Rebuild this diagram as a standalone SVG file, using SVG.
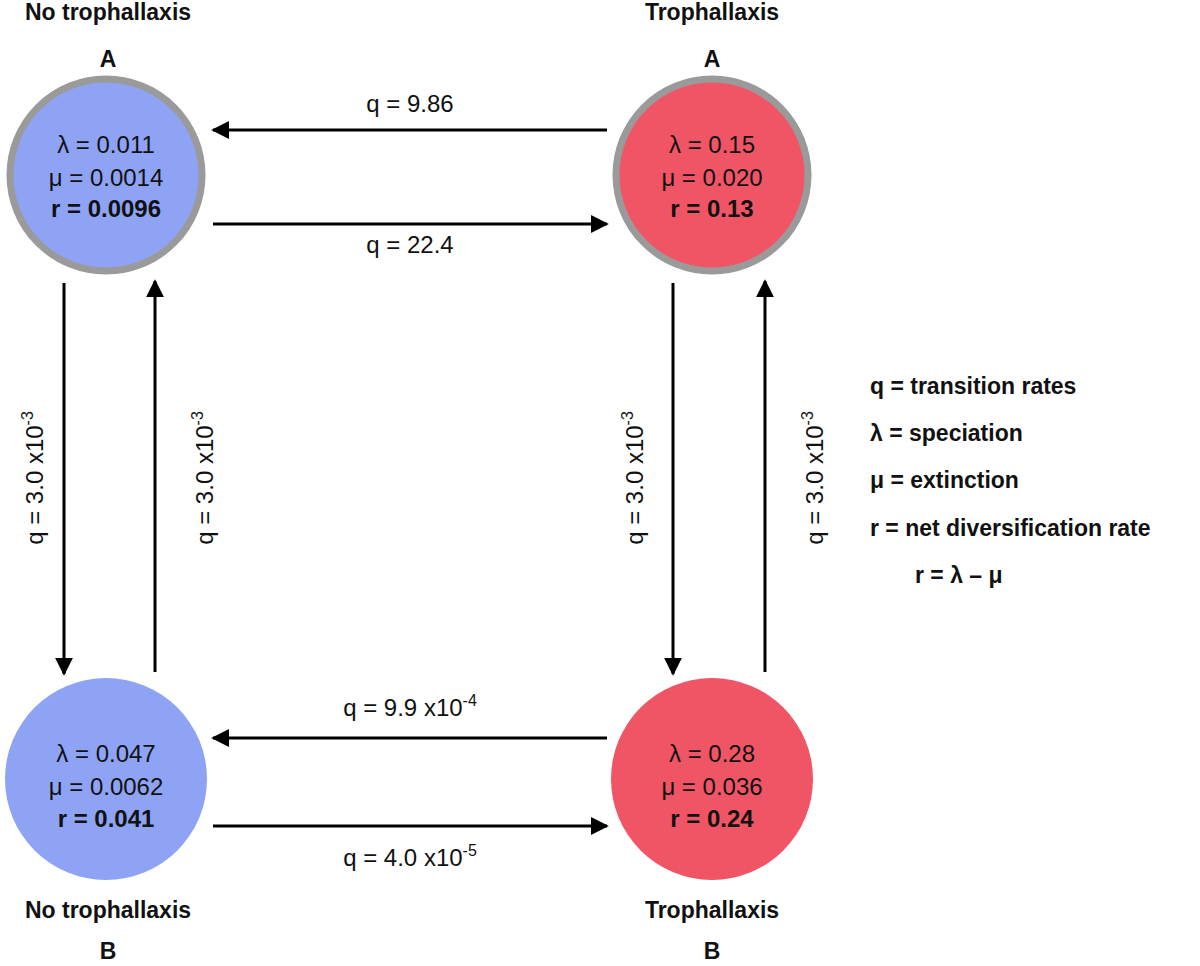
<svg xmlns="http://www.w3.org/2000/svg" width="1200" height="966" viewBox="0 0 1200 966">
<defs>
<marker id="ah" viewBox="0 0 10 10" refX="9" refY="5" markerWidth="18" markerHeight="18" markerUnits="userSpaceOnUse" orient="auto"><path d="M0,0 L10,5 L0,10 z" fill="#000"/></marker>
<style>
text{font-family:"Liberation Sans",Arial,sans-serif;font-size:23px;fill:#111;text-anchor:middle}
.n{font-size:24px}
.b{font-weight:bold}
.l{text-anchor:start;font-weight:bold}
.s{font-size:16px}
line{stroke:#000;stroke-width:3;marker-end:url(#ah)}
.blue{fill:#8fa3f5}
.red{fill:#f05566}
.ring{stroke:#9a9a9a;stroke-width:7}
</style>
</defs>
<text class="b" x="108" y="20">No trophallaxis</text>
<text class="b" x="712" y="20">Trophallaxis</text>
<text class="b" x="108" y="918">No trophallaxis</text>
<text class="b" x="712" y="918">Trophallaxis</text>
<g id="nodeA1"><text class="b" x="108" y="67">A</text><circle class="blue ring" cx="106" cy="175" r="96"/><text class="n" x="106" y="153">λ = 0.011</text><text class="n" x="106" y="186">μ = 0.0014</text><text class="n b" x="106" y="217">r = 0.0096</text></g>
<g id="nodeA2"><text class="b" x="712" y="67">A</text><circle class="red ring" cx="712" cy="175" r="96"/><text class="n" x="712" y="153">λ = 0.15</text><text class="n" x="712" y="186">μ = 0.020</text><text class="n b" x="712" y="217">r = 0.13</text></g>
<g id="nodeB1"><circle class="blue" cx="106" cy="779" r="101"/><text class="n" x="106" y="762">λ = 0.047</text><text class="n" x="106" y="795">μ = 0.0062</text><text class="n b" x="106" y="827">r = 0.041</text><text class="b" x="108" y="959">B</text></g>
<g id="nodeB2"><circle class="red" cx="712" cy="779" r="101"/><text class="n" x="712" y="762">λ = 0.28</text><text class="n" x="712" y="795">μ = 0.036</text><text class="n b" x="712" y="827">r = 0.24</text><text class="b" x="712" y="959">B</text></g>
<g id="connectors">
<line x1="607" y1="130" x2="213" y2="130"/>
<line x1="213" y1="224" x2="607" y2="224"/>
<line x1="607" y1="738" x2="213" y2="738"/>
<line x1="213" y1="826" x2="607" y2="826"/>
<line x1="64" y1="283" x2="64" y2="674"/>
<line x1="155" y1="672" x2="155" y2="281"/>
<line x1="673" y1="283" x2="673" y2="674"/>
<line x1="765" y1="672" x2="765" y2="281"/>
<text class="n" x="410" y="112">q = 9.86</text>
<text class="n" x="410" y="253">q = 22.4</text>
<text class="n" x="410" y="716">q = 9.9 x10<tspan class="s" dy="-10">-4</tspan></text>
<text class="n" x="410" y="866">q = 4.0 x10<tspan class="s" dy="-10">-5</tspan></text>
<text class="n" transform="translate(43,478) rotate(-90)">q = 3.0 x10<tspan class="s" dy="-10">-3</tspan></text>
<text class="n" transform="translate(213,478) rotate(-90)">q = 3.0 x10<tspan class="s" dy="-10">-3</tspan></text>
<text class="n" transform="translate(643,478) rotate(-90)">q = 3.0 x10<tspan class="s" dy="-10">-3</tspan></text>
<text class="n" transform="translate(823,478) rotate(-90)">q = 3.0 x10<tspan class="s" dy="-10">-3</tspan></text>
</g>
<g id="legend">
<text class="l" x="870" y="394">q = transition rates</text>
<text class="l" x="870" y="441">λ = speciation</text>
<text class="l" x="870" y="488">μ = extinction</text>
<text class="l" x="870" y="536">r = net diversification rate</text>
<text class="l" x="915" y="583">r = λ – μ</text>
</g>
</svg>
